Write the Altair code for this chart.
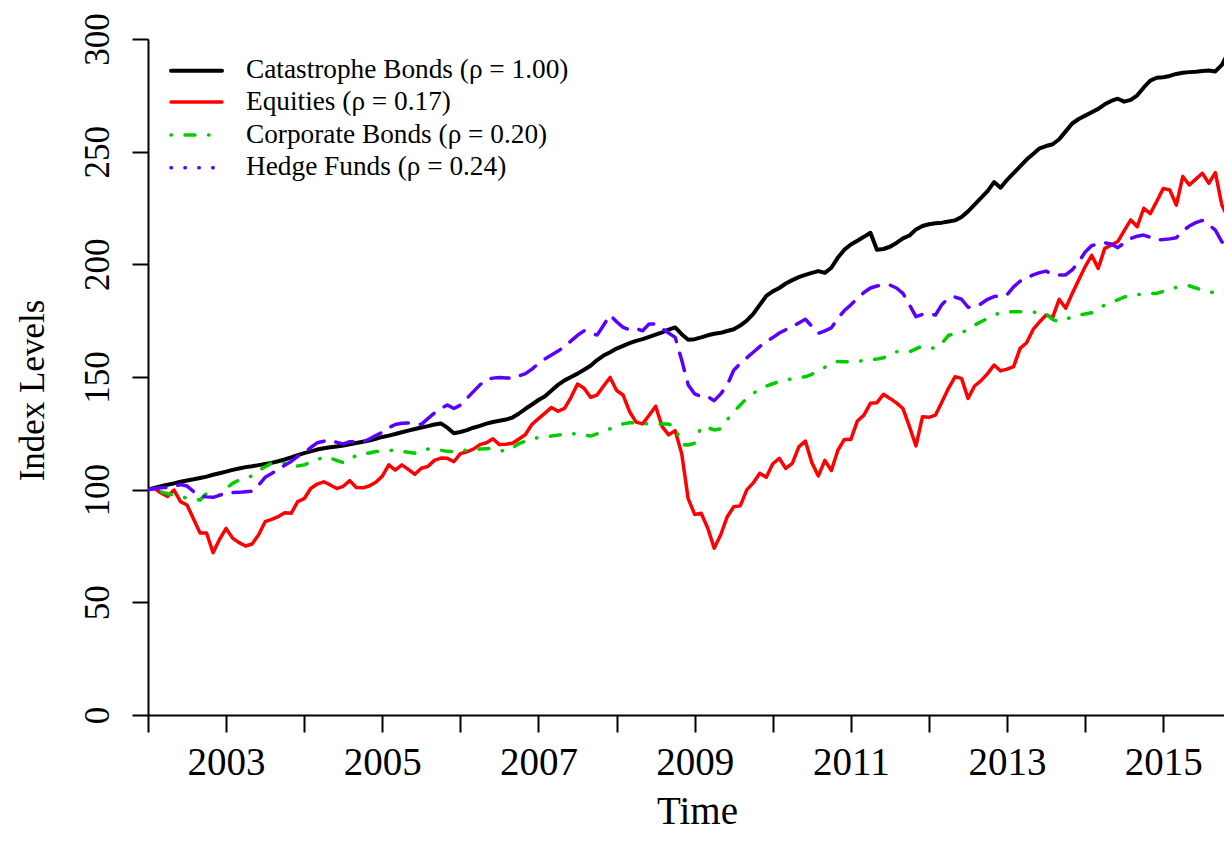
import altair as alt
import pandas as pd

START_YEAR = 2002
series_names = ["Catastrophe Bonds", "Equities", "Corporate Bonds", "Hedge Funds"]
legend_labels = ["Catastrophe Bonds (\u03c1 = 1.00)", "Equities (\u03c1 = 0.17)",
                 "Corporate Bonds (\u03c1 = 0.20)", "Hedge Funds (\u03c1 = 0.24)"]
x_tick_years = list(range(2002, 2016))
y_tick_values = [0, 50, 100, 150, 200, 250, 300]

# monthly index levels, Jan 2002 onward (one row per year)
cat_bonds = [
    100, 100.8, 101.5, 102.2, 102.8, 103.5, 104.1, 104.6, 105.2, 105.8, 106.6, 107.3,
    108.0, 108.8, 109.4, 110.0, 110.4, 110.9, 111.4, 111.9, 112.6, 113.4, 114.3, 115.3,
    116.2, 117.0, 117.8, 118.4, 118.8, 119.2, 119.6, 120.1, 120.7, 121.3, 121.8, 122.6,
    123.4, 124.0, 124.7, 125.5, 126.2, 126.9, 127.6, 128.2, 128.9, 129.4, 127.5, 125.0,
    125.6, 126.4, 127.5, 128.3, 129.3, 130.0, 130.6, 131.1, 132.0, 133.8, 135.9, 137.8,
    139.8, 141.5, 144.0, 146.5, 148.5, 150.0, 151.5, 153.2, 155.0, 157.5, 159.5, 161.0,
    162.6, 163.8, 165.0, 166.0, 166.8, 167.8, 168.8, 169.8, 171.0, 172.0, 169.0, 166.5,
    166.8, 167.6, 168.5, 169.2, 169.6, 170.4, 171.2, 172.8, 175.0, 178.0, 182.0, 186.0,
    188.0, 189.5, 191.5, 193.0, 194.3, 195.3, 196.2, 197.0, 196.2, 198.5, 203.0, 206.5,
    208.8, 210.5, 212.2, 214.0, 206.5, 206.8, 207.8, 209.5, 211.5, 212.8, 215.5, 217.0,
    217.8, 218.2, 218.5, 219.0, 219.5, 221.0, 223.5, 226.5, 229.5, 232.5, 236.5, 234.0,
    237.5, 240.5, 243.5, 246.5, 249.0, 251.5, 252.5, 253.3, 255.5, 259.0, 262.5, 264.5,
    266.0, 267.5, 269.0, 271.0, 272.5, 273.5, 272.2, 273.0, 275.0, 278.5, 281.5, 282.8,
    283.0, 283.6, 284.5, 285.0, 285.3, 285.5, 285.8, 286.0, 285.6, 288.5, 294.0,
]
equities = [
    100, 100.5, 98.5, 97, 99.8, 94.7, 93.2, 87, 80.8, 80.8, 72, 78,
    82.8, 78.5, 76.5, 75, 75.9, 80, 85.8, 86.8, 88, 89.8, 89.5, 94.7,
    96, 100.5, 102.5, 103.5, 102.1, 100.5, 101.5, 104, 101, 100.8, 101.6, 103.3,
    106, 111, 108.7, 111, 109, 106.8, 109.5, 110.3, 113, 114, 113.9, 112.4,
    116, 116.8, 118, 120, 120.8, 122.6, 120, 120.2, 120.6, 122.5, 124.5, 129,
    131.5, 134, 136.5, 134.8, 136.1, 141, 146.9, 145, 141, 142, 146, 149.8,
    144, 142, 134.6, 130, 129.2, 133, 137, 128, 124.3, 126.2, 116, 96,
    89, 89.5, 83, 74, 80, 88, 92.4, 92.8, 99.9, 103, 107.3, 105.5,
    111.5, 113.9, 109.4, 111.7, 119, 121.6, 112, 106.1, 113, 108.5, 117.5, 122.3,
    122.3, 130.5, 133.1, 138.3, 138.6, 142.3, 140.5, 138.5, 136, 128, 119.4, 132.4,
    132.1, 133.1, 139, 145, 150.1, 149.4, 140.5, 146, 148.4, 151.5, 155.3, 152.7,
    153.5, 154.6, 162.7, 165.2, 171.1, 174.5, 177.5, 176.5, 184.5, 180.5, 187, 193,
    199, 204, 198.2, 207.1, 208.5, 210.1, 215, 219.7, 216.7, 224.9, 222.5, 228,
    233.7, 233, 226.3, 239, 235.2, 237.8, 240.4, 236, 240.7, 226.3, 220.4,
]
corp_bonds = [
    100, 99.5, 99, 98.2, 97.6, 97, 96.2, 95.8, 95.4, 98.4, 97.8, 97.6,
    100.5, 102.8, 104.3, 105.5, 106, 108.5, 110.2, 111.7, 111.6, 111.8, 111.4, 110.5,
    111, 112.2, 113.2, 114.6, 114, 113, 112, 113.4, 115.2, 115.6, 116.3, 116.9,
    117.2, 117.4, 117.5, 117, 116.6, 116.2, 117, 118, 118, 117.5, 117, 116.9,
    117.2, 117.6, 117.8, 118, 118.2, 118.3, 117.5, 117, 118.5, 120.5, 121.5, 122.3,
    123.2, 123.5, 123.8, 124.2, 124.6, 125, 124.6, 124.2, 123.8, 124.8, 126, 127,
    128.2, 129.2, 129.7, 129.6, 129.4, 129.2, 129.1, 129.1, 129.1, 128, 120, 119.8,
    120.6, 128, 127.5, 126.5, 127, 131, 134.5, 137.6, 140.5, 142.8, 144.5, 146,
    147, 148, 148.6, 149.2, 149.7, 150.1, 151.2, 152.8, 154.3, 156, 156.9, 156.8,
    156.8, 157, 157.3, 157.6, 158, 158.5, 160, 161.2, 161.2, 161.2, 162.5, 163.8,
    163, 162.7, 165, 168.5, 169.2, 169.7, 171, 173, 174.5, 176, 177.5, 178.5,
    178.8, 179, 179, 179, 178.8, 178.5, 178, 175.5, 174.5, 175.5, 176.8, 177.5,
    178, 178.5, 180, 182, 183.2, 184.2, 185.5, 186.2, 186.6, 186.8, 187, 187.1,
    188, 189, 189.8, 190.2, 190.5, 189.5, 188.5, 187.9, 187.3, 186.8, 187.2,
]
hedge_funds = [
    100, 100.5, 100.8, 101, 101.5, 102.3, 101.6, 99.2, 97.2, 96.8, 96.6, 97.5,
    98.7, 98.7, 98.8, 99.1, 99.3, 102, 105.5, 107.2, 109, 110.8, 112.5, 114.8,
    116.3, 118.7, 120.8, 121.5, 122, 121, 120.3, 121.3, 121.2, 121, 122.5, 124,
    125.5, 127.5, 128.9, 129.5, 129.6, 129, 129, 131.5, 134, 136, 137.6, 136,
    137.5, 140.5, 143.5, 146.5, 149, 149.5, 149.8, 149.6, 149.4, 150.5, 151.5, 153.5,
    156, 158, 159.8, 161.5, 163.5, 166, 168.5, 170.5, 169.5, 168.6, 173, 177.5,
    174.5, 172, 171, 171.5, 170.5, 173.5, 173.5, 171.5, 169.5, 167.6, 157.5, 146.5,
    142.5, 141.3, 141.3, 139.5, 142.5, 146.5, 153, 156, 158.5, 161, 163.5, 165.7,
    167.5, 169.5, 171, 172.2, 174, 175.6, 172.5, 169.4, 170.5, 171.8, 176, 179.5,
    182, 185, 187.5, 189.5, 190.4, 190.8, 190.8, 189.5, 187.1, 182, 176.8, 177.8,
    178.1, 177.5, 182.2, 185, 185.5, 184.5, 181, 181, 182.5, 184.5, 185.7, 186,
    186.5, 190, 192.5, 194, 195.3, 196.3, 197, 195.5, 195.3, 195.3, 197.5, 201,
    205.5, 208.3, 209, 209.5, 209, 207.4, 209.5, 211.5, 212.5, 213, 212, 210.8,
    211, 211.3, 211.8, 214.8, 217, 218.5, 219.5, 217.5, 215.2, 210, 207.8,
]

all_series = [cat_bonds, equities, corp_bonds, hedge_funds]
rows = []
for name, vals in zip(series_names, all_series):
    for i, v in enumerate(vals):
        rows.append({"t": START_YEAR + i / 12.0, "value": v, "series": name})
df = pd.DataFrame(rows)

FONT = "Liberation Serif"
PX_PER_YEAR = 78.1
PLOT_W = 1076
PLOT_H = 676
x_end = START_YEAR + PLOT_W / PX_PER_YEAR

styles = {
    "Catastrophe Bonds": dict(color="#000000", strokeWidth=4),
    "Equities": dict(color="#FF0000", strokeWidth=3.5),
    "Corporate Bonds": dict(color="#00CD00", strokeWidth=3.5, strokeDash=[0.5, 13.5, 10, 13.5]),
    "Hedge Funds": dict(color="#5B00FF", strokeWidth=3.5, strokeDash=[18, 12]),
}
legend_dash = {
    "Corporate Bonds": [0.5, 13.5, 10, 13.5],
    "Hedge Funds": [0.5, 13.4],
}

x_enc = alt.X(
    "t:Q",
    scale=alt.Scale(domain=[START_YEAR, x_end], nice=False, zero=False),
    axis=alt.Axis(
        values=x_tick_years, format="d",
        labelExpr="datum.value % 2 == 1 ? datum.label : ''",
        tickSize=17, tickWidth=2, domainWidth=2,
        labelFontSize=39, labelPadding=42, labelBaseline="alphabetic",
        labelOverlap=False, labelFlush=False,
        title="Time", titleFontSize=39, titleX=549, titleY=108,
        titleBaseline="alphabetic", titleAlign="center",
    ),
)
y_enc = alt.Y(
    "value:Q",
    scale=alt.Scale(domain=[0, 300], nice=False),
    axis=alt.Axis(
        values=y_tick_values, tickSize=16, tickWidth=2, domainWidth=2,
        labelFontSize=35, labelAngle=270, labelAlign="center",
        labelBaseline="alphabetic", labelPadding=24,
        labelOverlap=False, labelFlush=False,
        title="Index Levels", titleFontSize=35, titleAngle=270,
        titleX=-105, titleY=351, titleAlign="center", titleBaseline="alphabetic",
    ),
)

base = alt.Chart(df).encode(x=x_enc, y=y_enc)
layers = []
for name in series_names:
    st = styles[name]
    kw = dict(color=st["color"], strokeWidth=st["strokeWidth"],
              strokeCap="round", strokeJoin="round", clip=True)
    if "strokeDash" in st:
        kw["strokeDash"] = st["strokeDash"]
    layers.append(base.transform_filter(alt.datum.series == name).mark_line(**kw))

# legend (drawn in the plot's top-left corner)
row_y = [31.7, 63, 96, 128.7]
for i, name in enumerate(series_names):
    st = styles[name]
    ldf = pd.DataFrame({"label": [legend_labels[i]]})
    kw = dict(color=st["color"], strokeWidth=st["strokeWidth"], strokeCap="round")
    if name in legend_dash:
        kw["strokeDash"] = legend_dash[name]
    layers.append(
        alt.Chart(ldf).mark_rule(**kw).encode(
            x=alt.value(23), x2=alt.value(74), y=alt.value(row_y[i])
        )
    )
    layers.append(
        alt.Chart(ldf).mark_text(
            align="left", baseline="alphabetic", font=FONT, fontSize=27.3, color="black"
        ).encode(x=alt.value(98), y=alt.value(row_y[i] + 7.6), text="label:N")
    )

chart = (
    alt.layer(*layers)
    .properties(
        width=PLOT_W, height=PLOT_H,
        autosize=alt.AutoSizeParams(type="none"),
        padding={"left": 140, "top": 31, "right": 0, "bottom": 119},
        background="white",
    )
    .configure_view(stroke=None)
    .configure_axis(
        grid=False, domainColor="black", tickColor="black",
        labelColor="black", titleColor="black",
        labelFont=FONT, titleFont=FONT, titleFontWeight="normal",
    )
)

chart.save("out.html", embed_options={"renderer": "svg", "actions": False})
